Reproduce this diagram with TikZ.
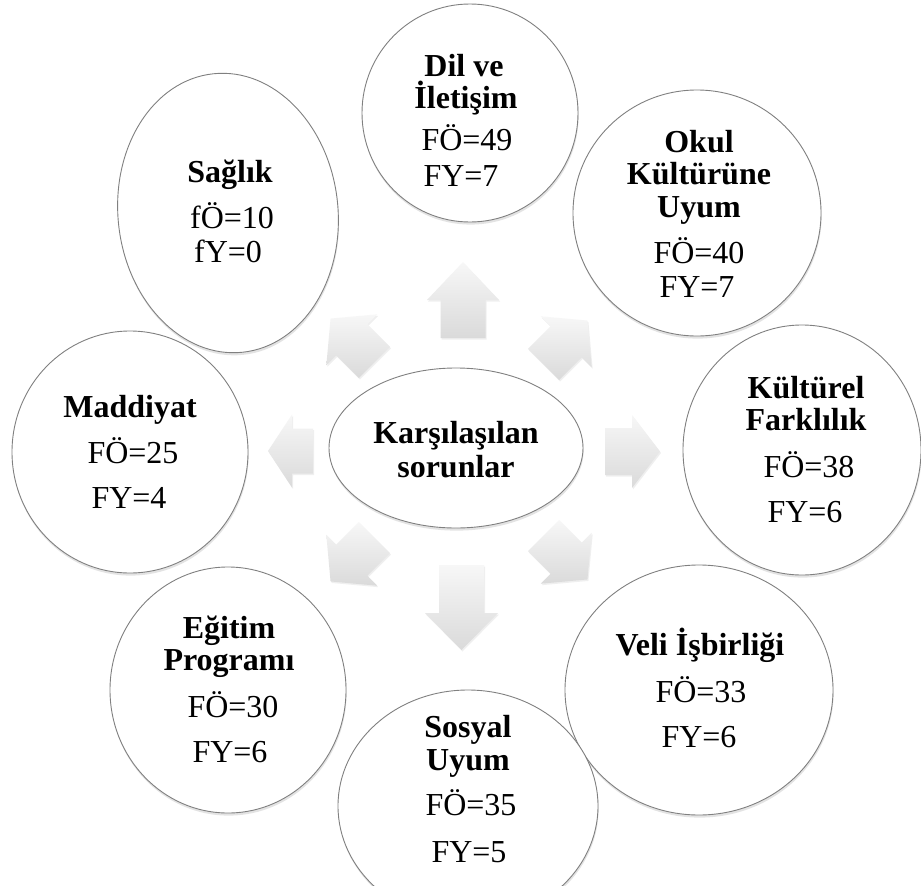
\documentclass[tikz,border=0pt]{standalone}
\usepackage{fontspec}
\setmainfont{Liberation Serif}
\usetikzlibrary{shapes.geometric,shadows}
\definecolor{edgegray}{HTML}{808080}
\definecolor{arrtop}{HTML}{F7F7F7}
\definecolor{arrbot}{HTML}{DADADA}
\tikzset{
  bub/.style={ellipse, draw=edgegray, line width=0.9pt, fill=white, inner sep=0pt,
    drop shadow={opacity=0.22, shadow xshift=0.6pt, shadow yshift=-2.6pt}},
  tx/.style={anchor=base, inner sep=0pt, font=\fontsize{32}{37}\selectfont},
  tb/.style={anchor=base, inner sep=0pt, font=\fontsize{32}{37}\selectfont\bfseries},
  arrowfill/.style={top color=arrtop, bottom color=arrbot,
    drop shadow={opacity=0.12, shadow xshift=1pt, shadow yshift=-1.5pt}}
}
% tail x, tail y, rotation, length, head length, head half-width, shaft half-width
\newcommand\blockarr[7]{%
  \shade[arrowfill, shift={(#1,#2)}, rotate=#3]
    (0,{-#7}) -- ({#4-#5},{-#7}) -- ({#4-#5},{-#6}) -- (#4,0)
    -- ({#4-#5},{#6}) -- ({#4-#5},{#7}) -- (0,{#7}) -- cycle;}
\begin{document}
\begin{tikzpicture}[x=1pt,y=-1pt]
\useasboundingbox (0,0) rectangle (921,886);
\clip (0,0) rectangle (921,886);
\fill[white] (0,0) rectangle (921,886);

% block arrows around the centre
\blockarr{463}{338}{90}{76}{38}{36}{22.5}
\blockarr{461.5}{565}{-90}{85}{37}{36.5}{22.5}
\blockarr{605}{451.5}{0}{55}{28}{36.5}{23.5}
\blockarr{313}{451}{180}{45}{24}{36.5}{22.5}
\blockarr{374.4}{362.4}{135}{62}{30}{36}{22}
\blockarr{543.6}{364.4}{45}{62}{30}{36}{22}
\blockarr{374.4}{537.6}{-135}{62}{30}{36}{22}
\blockarr{543.6}{535.6}{-45}{62}{30}{36}{22}

% centre
\node[bub, minimum width=254, minimum height=160] (center) at (456,448) {};
\node[tb] (c1) at (456,443) {Karşılaşılan};
\node[tb] (c2) at (456,477) {sorunlar};

% Dil ve Iletisim
\node[bub, minimum width=216, minimum height=218] (dil) at (470,113) {};
\node[tb] (dil1) at (464,76) {Dil ve};
\node[tb] (dil2) at (466,108) {İletişim};
\node[tx] (dil3) at (467,150) {FÖ=49};
\node[tx] (dil4) at (461,186) {FY=7};

% Okul Kulturune Uyum
\node[bub, minimum width=248, minimum height=246] (okul) at (697,213) {};
\node[tb] (okul1) at (699,152) {Okul};
\node[tb] (okul2) at (699,184) {Kültürüne};
\node[tb] (okul3) at (699,217) {Uyum};
\node[tx] (okul4) at (699,263) {FÖ=40};
\node[tx] (okul5) at (697,297) {FY=7};

% Kulturel Farklilik
\node[bub, minimum width=238, minimum height=250] (kult) at (802,450) {};
\node[tb] (kult1) at (806,398) {Kültürel};
\node[tb] (kult2) at (806,430) {Farklılık};
\node[tx] (kult3) at (809,477) {FÖ=38};
\node[tx] (kult4) at (805,522) {FY=6};

% Veli Isbirligi
\node[bub, minimum width=268, minimum height=250] (veli) at (699,690) {};
\node[tb] (veli1) at (700,655) {Veli İşbirliği};
\node[tx] (veli2) at (701,702) {FÖ=33};
\node[tx] (veli3) at (699,747) {FY=6};

% Sosyal Uyum
\node[bub, minimum width=260, minimum height=232] (sos) at (468,806) {};
\node[tb] (sos1) at (468,737) {Sosyal};
\node[tb] (sos2) at (468,770) {Uyum};
\node[tx] (sos3) at (471,815) {FÖ=35};
\node[tx] (sos4) at (469,862) {FY=5};

% Egitim Programi
\node[bub, minimum width=236, minimum height=246] (egit) at (228,690) {};
\node[tb] (egit1) at (229,638) {Eğitim};
\node[tb] (egit2) at (229,670) {Programı};
\node[tx] (egit3) at (233,717) {FÖ=30};
\node[tx] (egit4) at (230,762) {FY=6};

% Maddiyat
\node[bub, minimum width=236, minimum height=242] (madd) at (130,452) {};
\node[tb] (madd1) at (130,417) {Maddiyat};
\node[tx] (madd2) at (133,463) {FÖ=25};
\node[tx] (madd3) at (129,508) {FY=4};

% Saglik
\node[bub, rotate=6, minimum width=220, minimum height=280] (sag) at (228,213) {};
\node[tb] (sag1) at (230,182) {Sağlık};
\node[tx] (sag2) at (232,228) {fÖ=10};
\node[tx] (sag3) at (228,262) {fY=0};
\end{tikzpicture}
\end{document}
